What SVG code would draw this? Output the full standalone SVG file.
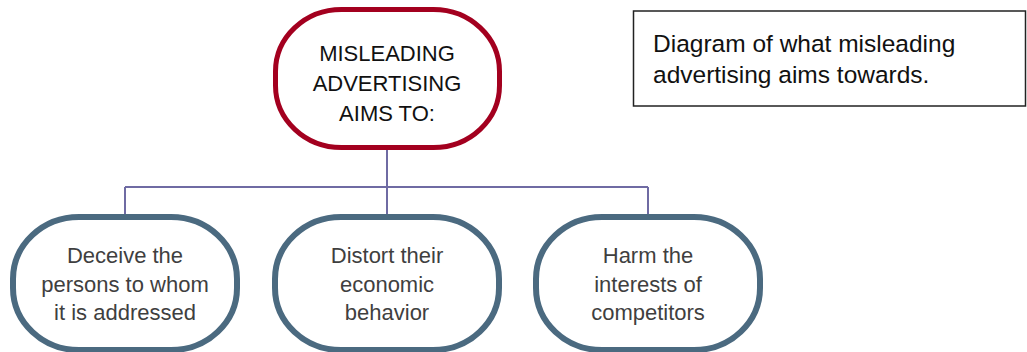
<svg xmlns="http://www.w3.org/2000/svg" width="1027" height="352" viewBox="0 0 1027 352">
  <style>
    .txt { font-family: "Liberation Sans", Arial, sans-serif; text-anchor: middle; }
    .root-shape { fill: #ffffff; stroke: #a3001f; stroke-width: 5; }
    .leaf-shape { fill: #ffffff; stroke: #4b6a80; stroke-width: 6; }
    .root-text { font-size: 22px; fill: #111111; }
    .leaf-text { font-size: 22px; fill: #3f3f3f; }
    .link { fill: none; stroke: #6f6ba3; stroke-width: 2; }
    .note-box { fill: #ffffff; stroke: #222222; stroke-width: 1.5; }
    .note-text { font-family: "Liberation Sans", Arial, sans-serif; font-size: 24.5px; fill: #111111; }
  </style>

  <rect width="1027" height="352" fill="#ffffff"/>

  <!-- tree connectors -->
  <g id="connectors">
    <path class="link" d="M387 150 V187"/>
    <path class="link" d="M125 187 H648"/>
    <path class="link" d="M125 187 V215"/>
    <path class="link" d="M387 187 V215"/>
    <path class="link" d="M648 187 V215"/>
  </g>

  <!-- root -->
  <g id="node-root">
    <rect class="root-shape" x="275.5" y="9.5" width="224" height="138" rx="66" ry="62"/>
    <text class="txt root-text" x="387" y="61">MISLEADING</text>
    <text class="txt root-text" x="387" y="91">ADVERTISING</text>
    <text class="txt root-text" x="387" y="121">AIMS TO:</text>
  </g>

  <!-- leaves -->
  <g id="node-deceive">
    <rect class="leaf-shape" x="13" y="217" width="224" height="133" rx="66" ry="62"/>
    <text class="txt leaf-text" x="125" y="263">Deceive the</text>
    <text class="txt leaf-text" x="125" y="292">persons to whom</text>
    <text class="txt leaf-text" x="125" y="320">it is addressed</text>
  </g>

  <g id="node-distort">
    <rect class="leaf-shape" x="275" y="217" width="224" height="133" rx="66" ry="62"/>
    <text class="txt leaf-text" x="387" y="263">Distort their</text>
    <text class="txt leaf-text" x="387" y="292">economic</text>
    <text class="txt leaf-text" x="387" y="320">behavior</text>
  </g>

  <g id="node-harm">
    <rect class="leaf-shape" x="536" y="217" width="224" height="133" rx="66" ry="62"/>
    <text class="txt leaf-text" x="648" y="263">Harm the</text>
    <text class="txt leaf-text" x="648" y="292">interests of</text>
    <text class="txt leaf-text" x="648" y="320">competitors</text>
  </g>

  <!-- caption box -->
  <g id="caption">
    <rect class="note-box" x="633.5" y="11" width="392" height="95"/>
    <text class="note-text" x="653" y="52">Diagram of what misleading</text>
    <text class="note-text" x="653" y="83">advertising aims towards.</text>
  </g>
</svg>
